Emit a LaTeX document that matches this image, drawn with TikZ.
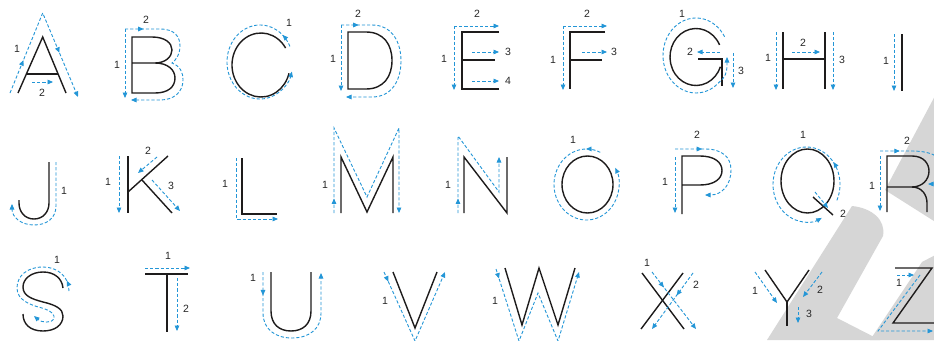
\documentclass[tikz,border=0pt]{standalone}
\usepackage{fontspec}
\setmainfont{Liberation Sans}
\usetikzlibrary{arrows.meta,decorations.markings}
\definecolor{gblue}{RGB}{35,150,215}
\definecolor{wmark}{RGB}{214,214,214}
\definecolor{ink}{RGB}{30,28,28}
\definecolor{numc}{RGB}{40,40,40}
\tikzset{
  letter/.style={draw=ink,line width=1.4pt,line join=miter},
  guide/.style={draw=gblue,line width=0.9pt,dash pattern=on 3.2pt off 2pt},
  ga/.style={guide,-{Triangle[length=5.5pt,width=4.6pt]}},
  marr/.style={postaction={decorate,decoration={markings,mark=at position #1 with {\arrow{Triangle[length=5.5pt,width=4.6pt]}}}}},
  num/.style={text=numc,font=\fontsize{10.5}{12}\selectfont,inner sep=0pt},
}
\begin{document}
\begin{tikzpicture}[x=1pt,y=-1pt]
\useasboundingbox (0,0) rectangle (934,340);
\clip (0,0) rectangle (934,340);
\fill[white] (0,0) rectangle (934,340);
% watermark
\fill[wmark] (945,77) -- (885,190) -- (945,228) -- cycle;
\fill[wmark] (852,206) .. controls (872,208) and (886,220) .. (883,236) -- (837,318) -- (880,340) -- (767,340) -- cycle;
\fill[wmark] (922,262) -- (945,250) -- (945,340) -- (870,340) -- cycle;
% ---------------- A
\draw[letter] (18,93) -- (42.7,37) -- (66,93);
\draw[letter] (26.4,74) -- (57.6,74);
\draw[ga,marr=0.2,marr=0.73] (10,93) -- (42.7,13) -- (78,97);
\draw[ga] (32,82) -- (53,82);
\node[num] (a1) at (17,49) {1};
\node[num] (a2) at (42,93) {2};
% ---------------- B
\draw[letter] (132,63) -- (155,63) .. controls (168,63) and (175,70) .. (175,78) .. controls (175,87) and (168,93) .. (155,93) -- (132,93) -- (132,37) -- (152,37) .. controls (165,37) and (172,43) .. (172,50) .. controls (172,57) and (165,63) .. (155,63);
\draw[ga] (125,29) -- (125,98);
\draw[ga,marr=0.11] (125,29) -- (160,29) .. controls (175,29) and (180,37) .. (180,46) .. controls (180,55) and (175,61) .. (172,63) .. controls (180,66) and (183,72) .. (183,80) .. controls (183,92) and (174,100) .. (160,100) -- (131,100);
\node[num] (b1) at (117,65) {1};
\node[num] (b2) at (146,20) {2};
% ---------------- C
\draw[letter] ([shift={(261,65)}]-32:29 and 32) arc[start angle=-32,end angle=-345,x radius=29,y radius=32];
\draw[ga,marr=0.07] ([shift={(260,62)}]-25:33 and 37) arc[start angle=-25,end angle=-345,x radius=33,y radius=37];
\node[num] (c1) at (289,23) {1};
% ---------------- D
\draw[letter] (348,32) -- (348,89) -- (366,89) .. controls (384,89) and (392,76) .. (392,60.5) .. controls (392,45) and (384,32) .. (366,32) -- cycle;
\draw[ga] (341,25) -- (341,91);
\draw[ga,marr=0.11] (341,25) -- (372,25) .. controls (392,25) and (401,42) .. (401,61) .. controls (401,80) and (392,97) .. (372,97) -- (346,97);
\node[num] (d1) at (333,59) {1};
\node[num] (d2) at (358,14) {2};
% ---------------- E
\draw[letter] (499,32) -- (462,32) -- (462,89) -- (499,89);
\draw[letter] (462,60) -- (495,60);
\draw[ga] (454,26) -- (454,90);
\draw[ga] (454,26) -- (499,26);
\draw[ga] (472,52) -- (499,52);
\draw[ga] (472,81) -- (499,81);
\node[num] (e1) at (444,59) {1};
\node[num] (e2) at (477,14) {2};
\node[num] (e3) at (508,52) {3};
\node[num] (e4) at (508,81) {4};
% ---------------- F
\draw[letter] (605,32) -- (570,32) -- (570,89);
\draw[letter] (570,60) -- (602,60);
\draw[ga] (563,26) -- (563,90);
\draw[ga] (563,26) -- (607,26);
\draw[ga] (582,52) -- (607,52);
\node[num] (f1) at (553,60) {1};
\node[num] (f2) at (587,14) {2};
\node[num] (f3) at (614,52) {3};
% ---------------- G
\draw[letter] ([shift={(696,57)}]-25:26 and 28.5) arc[start angle=-25,end angle=-340,x radius=26,y radius=28.5];
\draw[letter] (698,59) -- (722,59) -- (722,86);
\draw[ga] ([shift={(696,55.5)}]-30:33 and 37.5) arc[start angle=-30,end angle=-315,x radius=33,y radius=37.5] .. controls (725,78) and (727,72) .. (727,66) -- (727,57);
\draw[ga] (720,52) -- (697,52);
\draw[ga] (733,53) -- (733,88);
\node[num] (g1) at (682,14) {1};
\node[num] (g2) at (690,52) {2};
\node[num] (g3) at (741,71) {3};
% ---------------- H
\draw[letter] (783,32) -- (783,89);
\draw[letter] (825,32) -- (825,89);
\draw[letter] (783,59) -- (825,59);
\draw[ga] (776,32) -- (776,90);
\draw[ga] (792,52) -- (820,52);
\draw[ga] (833,32) -- (833,90);
\node[num] (h1) at (768,58) {1};
\node[num] (h2) at (803,43) {2};
\node[num] (h3) at (842,60) {3};
% ---------------- I
\draw[letter] (902,34) -- (902,91);
\draw[ga] (894,34) -- (894,91);
\node[num] (i1) at (886,61) {1};
% ---------------- J
\draw[letter] (49,162) -- (49,203) .. controls (49,212) and (43,219) .. (34,219) .. controls (25,219) and (19,212) .. (19,203) -- (19,200);
\draw[ga] (56,162) -- (56,206) .. controls (56,218) and (47,225) .. (34,225) .. controls (21,225) and (12,217) .. (12,204);
\node[num] (j1) at (64,191) {1};
% ---------------- K
\draw[letter] (128,156) -- (128,213);
\draw[letter] (128,192) -- (168,156);
\draw[letter] (142,180) -- (172,213);
\draw[ga] (119,156) -- (119,213);
\draw[ga] (157,157) -- (138,173);
\draw[ga] (152,180) -- (180,211);
\node[num] (k1) at (108,182) {1};
\node[num] (k2) at (148,151) {2};
\node[num] (k3) at (171,186) {3};
% ---------------- L
\draw[letter] (242,158) -- (242,214) -- (277,214);
\draw[ga] (236,158) -- (236,219) -- (278,219);
\node[num] (l1) at (225,184) {1};
% ---------------- M
\draw[letter] (341,213) -- (341,157) -- (367,212) -- (393,157) -- (393,213);
\draw[ga,marr=0.045] (334,213) -- (334,128) -- (367,197) -- (399,128) -- (399,213);
\node[num] (m1) at (325,185) {1};
% ---------------- N
\draw[letter] (464,213) -- (464,157) -- (507,213) -- (507,157);
\draw[ga,marr=0.08] (458,213) -- (458,136) -- (499,192) -- (499,157);
\node[num] (n1) at (448,185) {1};
% ---------------- O
\draw[letter] (587.5,184.5) ellipse [x radius=25.5,y radius=28.5];
\draw[ga,marr=0.077] ([shift={(586.5,184.5)}]-65:32.5 and 35.5) arc[start angle=-65,end angle=-388,x radius=32.5,y radius=35.5];
\node[num] (o1) at (573,140) {1};
% ---------------- P
\draw[letter] (682,214) -- (682,156) -- (700,156) .. controls (714,156) and (722,162) .. (722,170.5) .. controls (722,179) and (714,185) .. (700,185) -- (682,185);
\draw[ga] (675,157) -- (675,213);
\draw[ga,marr=0.25] (675,149) -- (705,149) .. controls (722,149) and (731,157) .. (731,170) .. controls (731,185) and (722,195) .. (705,195);
\node[num] (p1) at (665,182) {1};
\node[num] (p2) at (697,135) {2};
% ---------------- Q
\draw[letter] (807.5,181) ellipse [x radius=26.5,y radius=32];
\draw[letter] (813,197) -- (833,215);
\draw[ga,marr=0.2] ([shift={(806.5,184.5)}]25:33.5 and 37.5) arc[start angle=25,end angle=-297,x radius=33.5,y radius=37.5];
\draw[ga] (815,192) -- (828,208);
\node[num] (q1) at (803,135) {1};
\node[num] (q2) at (843,214) {2};
% ---------------- R
\draw[letter] (887,212) -- (887,156) -- (912,156) .. controls (924,156) and (929,164) .. (929,171) .. controls (929,180) and (922,187) .. (912,187) -- (887,187);
\draw[letter] (912,187) .. controls (922,187) and (927,195) .. (927,203) -- (927,212);
\draw[ga] (880,156) -- (880,211);
\draw[ga,marr=0.2] (880,151) -- (912,151) .. controls (935,151) and (945,160) .. (945,170) .. controls (945,180) and (935,184) .. (928,184);
\node[num] (r1) at (872,186) {1};
\node[num] (r2) at (907,141) {2};
% ---------------- S
\draw[letter] (63,288) .. controls (62,278) and (54,272) .. (43,272) .. controls (31,272) and (23,279) .. (23,287) .. controls (23,296) and (32,299) .. (43,302) .. controls (56,305) and (63,309) .. (63,316) .. controls (63,325) and (55,331) .. (43,331) .. controls (30,331) and (23,324) .. (23,314);
\draw[ga,marr=0.07] (69,291) .. controls (69,276) and (57,267) .. (43,267) .. controls (27,267) and (17,276) .. (17,288) .. controls (17,300) and (30,305) .. (42,308) .. controls (52,311) and (55,315) .. (54,319) .. controls (52,323) and (42,323) .. (34,316);
\node[num] (s1) at (57,260) {1};
% ---------------- T
\draw[letter] (145,274) -- (188,274);
\draw[letter] (167,274) -- (167,332);
\draw[ga] (145,268) -- (190,268);
\draw[ga] (177,278) -- (177,331);
\node[num] (t1) at (168,256) {1};
\node[num] (t2) at (186,309) {2};
% ---------------- U
\draw[letter] (271,272) -- (271,311) .. controls (271,324) and (279,331) .. (291,331) .. controls (303,331) and (311,324) .. (311,311) -- (311,272);
\draw[ga,marr=0.14] (263,272) -- (263,313) .. controls (263,329) and (275,338) .. (292,338) .. controls (309,338) and (321,329) .. (321,313) -- (321,273);
\node[num] (u1) at (253,278) {1};
% ---------------- V
\draw[letter] (393,272) -- (415,328) -- (437,272);
\draw[ga,marr=0.07] (384,272) -- (415,341) -- (445,272);
\node[num] (v1) at (385,301) {1};
% ---------------- W
\draw[letter] (505,268) -- (522,325) -- (539,268) -- (558,325) -- (575,268);
\draw[ga,marr=0.04] (496,269) -- (519,341) -- (538,293) -- (558,341) -- (579,272);
\node[num] (w1) at (495,301) {1};
% ---------------- X
\draw[letter] (642,273) -- (684,329);
\draw[letter] (683,273) -- (641,329);
\draw[ga,marr=0.27] (652,272) -- (696,329);
\draw[ga,marr=0.4] (693,273) -- (652,329);
\node[num] (x1) at (647,263) {1};
\node[num] (x2) at (696,285) {2};
% ---------------- Y
\draw[letter] (765,270) -- (787,302) -- (809,270);
\draw[letter] (787,302) -- (787,326);
\draw[ga] (755,272) -- (777,303);
\draw[ga] (822,272) -- (803,297);
\draw[ga] (798,307) -- (798,323);
\node[num] (y1) at (755,291) {1};
\node[num] (y2) at (820,290) {2};
\node[num] (y3) at (809,314) {3};
% ---------------- Z
\draw[letter] (895,268) -- (932,268) -- (893,323) -- (940,323);
\draw[ga] (897,275) -- (914,275);
\draw[ga] (920,275) -- (878,331) -- (933,331);
\node[num] (z1) at (899,283) {1};
\end{tikzpicture}
\end{document}
